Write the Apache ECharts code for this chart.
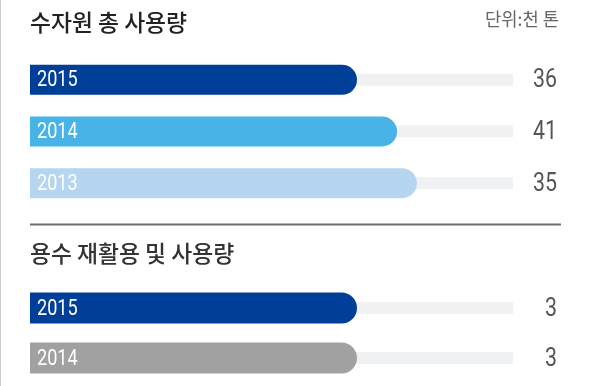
<!DOCTYPE html>
<html>
<head>
<meta charset="utf-8">
<script src="https://cdn.jsdelivr.net/npm/echarts@6/dist/echarts.min.js"></script>
<style>
  html, body { margin: 0; padding: 0; background: #fff; }
  #chart { width: 600px; height: 386px; }
</style>
</head>
<body>
<div id="chart"></div>
<script>
// 수자원 총 사용량 (단위: 천 톤)
const usageYears = ['2015', '2014', '2013'];
const usageValues = [36, 41, 35];
// bar fill, as a percentage of the full track
const usageBarLengths = [67.7, 76.0, 80.1];
const usageColors = ['#003f98', '#47b3e6', '#b6d5f0'];

// 용수 재활용 및 사용량
const reuseYears = ['2015', '2014'];
const reuseValues = [3, 3];
const reuseBarLengths = [67.7, 67.7];
const reuseColors = ['#003f98', '#a1a1a1'];

const trackMax = 100;

const KR = '"Noto Sans CJK KR", "Noto Sans", sans-serif';
const DIGITS = 'Roboto, "Noto Sans", sans-serif';
// horizontal squeeze giving Roboto a condensed look
const CONDENSE = 0.82;

function trackData(n) {
  const arr = [];
  for (let i = 0; i < n; i++) arr.push(trackMax);
  return arr;
}

// Year inside each bar and the figure at the end of each track,
// both placed through the grid's own axes.
function labelSeries(gridIdx, years, values) {
  return {
    type: 'custom',
    xAxisIndex: gridIdx,
    yAxisIndex: gridIdx * 2,
    silent: true,
    z: 5,
    data: years.map((y, i) => [0, i]),
    renderItem: function (params, api) {
      const i = api.value(1);
      const start = api.coord([0, i]);
      const end = api.coord([trackMax, i]);
      return {
        type: 'group',
        children: [
          {
            type: 'text',
            x: start[0] + 7, y: start[1] + 1,
            scaleX: CONDENSE,
            style: {
              text: years[i], fill: '#ffffff',
              font: '22px ' + DIGITS,
              textAlign: 'left', textVerticalAlign: 'middle'
            }
          },
          {
            type: 'text',
            x: end[0] + 44, y: start[1] + 1,
            scaleX: CONDENSE,
            style: {
              text: String(values[i]), fill: '#555555',
              font: '26px ' + DIGITS,
              textAlign: 'right', textVerticalAlign: 'middle'
            }
          }
        ]
      };
    }
  };
}

function sectionSeries(gridIdx, years, values, lengths, colors, barW) {
  return [
    {
      type: 'bar',
      xAxisIndex: gridIdx,
      yAxisIndex: gridIdx * 2 + 1,
      data: trackData(years.length),
      barWidth: 12,
      itemStyle: { color: '#f0f1f3' },
      silent: true,
      z: 1
    },
    {
      type: 'bar',
      xAxisIndex: gridIdx,
      yAxisIndex: gridIdx * 2,
      data: lengths.map((v, i) => ({ value: v, itemStyle: { color: colors[i] } })),
      barWidth: barW,
      itemStyle: { borderRadius: [0, 16, 16, 0] },
      z: 2
    },
    labelSeries(gridIdx, years, values)
  ];
}

function categoryAxes(gridIdx, years) {
  const hidden = {
    type: 'category', gridIndex: gridIdx, data: years, inverse: true,
    axisLine: { show: false }, axisTick: { show: false }, axisLabel: { show: false },
    splitLine: { show: false }
  };
  return [hidden, Object.assign({}, hidden, { position: 'right' })];
}

function valueAxis(gridIdx) {
  return {
    type: 'value', gridIndex: gridIdx, min: 0, max: trackMax,
    show: false, splitLine: { show: false }
  };
}

const chart = echarts.init(document.getElementById('chart'), null, { renderer: 'canvas' });

chart.setOption({
  backgroundColor: '#ffffff',
  animation: false,
  title: [
    {
      text: '수자원 총 사용량', left: 30, top: 11, padding: 0,
      textStyle: { fontFamily: KR, fontSize: 22.8, fontWeight: 500, color: '#222222' }
    },
    {
      text: '단위:천 톤', right: 41, top: 10.5, padding: 0,
      textStyle: { fontFamily: KR, fontSize: 17.7, fontWeight: 400, color: '#666666' }
    },
    {
      text: '용수 재활용 및 사용량', left: 30, top: 241.5, padding: 0,
      textStyle: { fontFamily: KR, fontSize: 22.8, fontWeight: 500, color: '#333333' }
    }
  ],
  grid: [
    { left: 30, right: 87, top: 54, height: 155 },
    { left: 30, right: 87, top: 283, height: 100 }
  ],
  xAxis: [valueAxis(0), valueAxis(1)],
  yAxis: categoryAxes(0, usageYears).concat(categoryAxes(1, reuseYears)),
  series: sectionSeries(0, usageYears, usageValues, usageBarLengths, usageColors, 30)
    .concat(sectionSeries(1, reuseYears, reuseValues, reuseBarLengths, reuseColors, 31)),
  graphic: [
    {
      type: 'line', silent: true,
      shape: { x1: 0.5, y1: 0, x2: 0.5, y2: 386 },
      style: { stroke: '#cccccc', lineWidth: 1 }
    },
    {
      type: 'line', silent: true,
      shape: { x1: 30, y1: 224.5, x2: 561, y2: 224.5 },
      style: { stroke: '#6e6e6e', lineWidth: 2 }
    }
  ]
});
</script>
</body>
</html>
